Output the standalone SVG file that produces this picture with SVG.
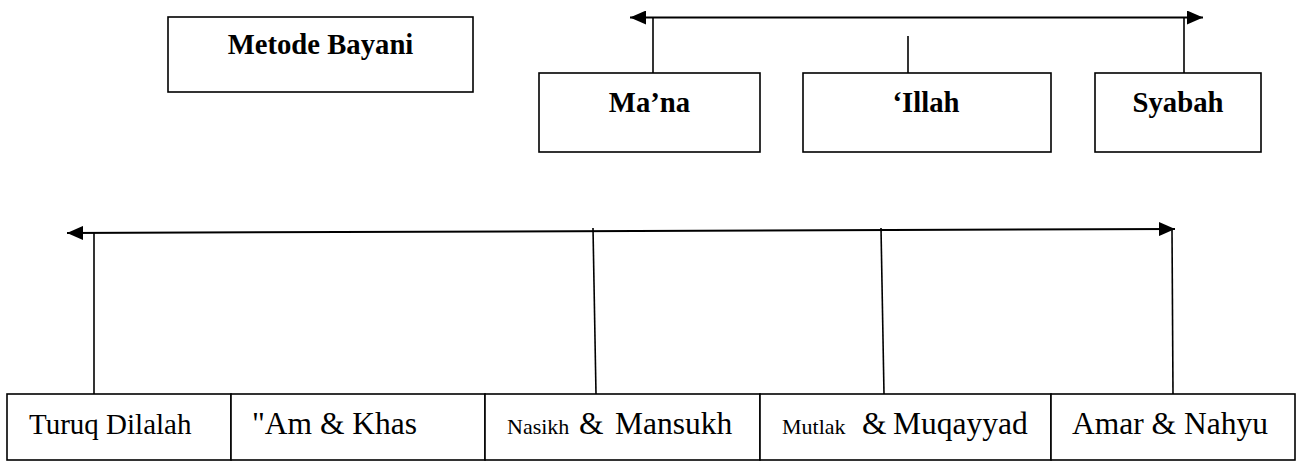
<svg xmlns="http://www.w3.org/2000/svg" width="1304" height="462" viewBox="0 0 1304 462">
<style>
.box{fill:#fff;stroke:#000;stroke-width:1.6}
.ln{fill:none;stroke:#000;stroke-width:1.6}
.arr{fill:none;stroke:#000;stroke-width:2}
text{font-family:'Liberation Serif','Times New Roman',Times,'DejaVu Serif',serif;fill:#000}
.b{font-weight:bold;font-size:28.7px;text-anchor:middle}
.r{font-size:31.5px}
.s{font-size:22px}
</style>
<defs>
<marker id="ah" markerUnits="userSpaceOnUse" markerWidth="16" markerHeight="14" refX="16" refY="7" orient="auto-start-reverse">
<path d="M0,0 L16,7 L0,14 z" fill="#000"/>
</marker>
</defs>
<rect width="1304" height="462" fill="#fff"/>
<g id="connectors">
<line class="arr" x1="630" y1="17.5" x2="1203" y2="17.5" marker-start="url(#ah)" marker-end="url(#ah)"/>
<line class="ln" x1="653" y1="17.5" x2="653" y2="73"/>
<line class="ln" x1="908" y1="36" x2="908" y2="73"/>
<line class="ln" x1="1184" y1="17.5" x2="1184" y2="73"/>
<line class="arr" x1="67" y1="233" x2="1175" y2="229" marker-start="url(#ah)" marker-end="url(#ah)"/>
<line class="ln" x1="94" y1="233" x2="94" y2="394"/>
<line class="ln" x1="593" y1="228" x2="596" y2="394"/>
<line class="ln" x1="881" y1="228" x2="884" y2="394"/>
<line class="ln" x1="1172" y1="229" x2="1173" y2="394"/>
</g>
<g id="metode-bayani">
<rect class="box" x="168" y="17" width="305" height="75"/>
<text class="b" x="320.5" y="54" font-family="Liberation Serif, serif">Metode Bayani</text>
</g>
<g id="mana">
<rect class="box" x="539" y="73" width="221" height="79"/>
<text class="b" x="649.5" y="112" font-family="Liberation Serif, serif">Ma’na</text>
</g>
<g id="illah">
<rect class="box" x="803" y="73" width="248" height="79"/>
<text class="b" x="926" y="112" font-family="Liberation Serif, serif">‘Illah</text>
</g>
<g id="syabah">
<rect class="box" x="1095" y="73" width="166" height="79"/>
<text class="b" x="1178" y="112" font-family="Liberation Serif, serif">Syabah</text>
</g>
<g id="turuq-dilalah">
<rect class="box" x="7" y="394" width="224" height="66"/>
<text class="r" x="29" y="434" font-family="Liberation Serif, serif" style="font-size:29px">Turuq Dilalah</text>
</g>
<g id="am-khas">
<rect class="box" x="231" y="394" width="254" height="66"/>
<text class="r" x="252" y="434" font-family="Liberation Serif, serif">"Am &amp; Khas</text>
</g>
<g id="nasikh-mansukh">
<rect class="box" x="485" y="394" width="275" height="66"/>
<text class="r" y="434" font-family="Liberation Serif, serif"><tspan class="s" x="507">Nasikh</tspan><tspan x="579">&amp;</tspan><tspan x="615">Mansukh</tspan></text>
</g>
<g id="mutlak-muqayyad">
<rect class="box" x="760" y="394" width="291" height="66"/>
<text class="r" y="434" font-family="Liberation Serif, serif"><tspan class="s" x="782">Mutlak</tspan><tspan x="862">&amp;</tspan><tspan x="893">Muqayyad</tspan></text>
</g>
<g id="amar-nahyu">
<rect class="box" x="1051" y="394" width="244" height="66"/>
<text class="r" x="1072" y="434" font-family="Liberation Serif, serif">Amar &amp; Nahyu</text>
</g>
</svg>
